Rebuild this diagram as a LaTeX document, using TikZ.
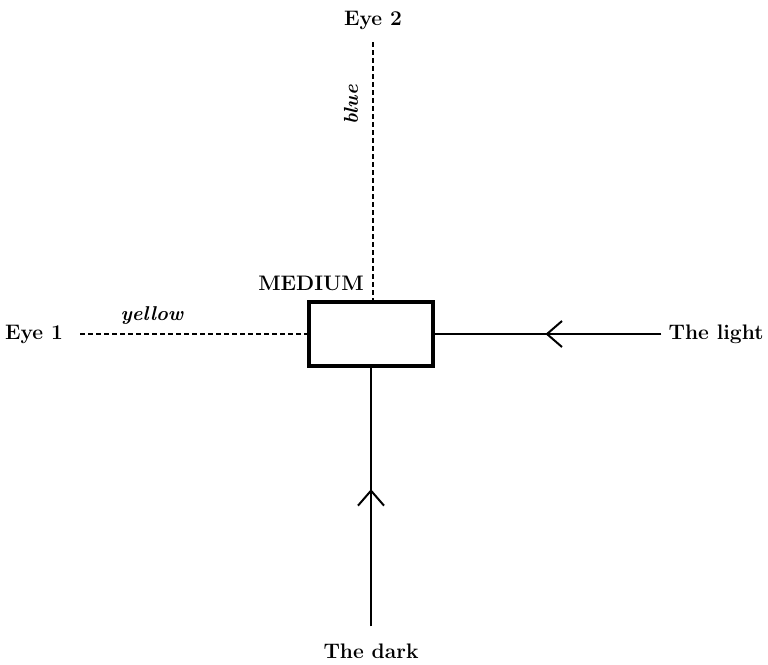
\documentclass[tikz,border=0pt]{standalone}
\usetikzlibrary{arrows.meta,decorations.markings}
\begin{document}
\begin{tikzpicture}[
    x=1pt, y=-1pt,
    font=\fontsize{21}{25}\selectfont\bfseries,
    every node/.style={inner sep=3pt},
    box/.style={draw, line width=3.5pt, minimum width=124pt, minimum height=64pt},
    ray/.style={line width=2pt},
    seen/.style={line width=1.8pt, dash pattern=on 5pt off 3pt},
    colour/.style={font=\fontsize{20}{24}\selectfont\bfseries\itshape},
    midarrow/.style={postaction={decorate}, decoration={markings, mark=at position #1 with {\arrow{Straight Barb[length=15pt,width=26pt]}}}}
]
\useasboundingbox (0,0) rectangle (768,664);
\node[box] (medium) at (371,334) {};
\node (mlabel) at (311,283) {MEDIUM};
\node (eye1) at (34,334) {Eye 1};
\node (eye2) at (373,20) {Eye 2};
\node (light) at (716,334) {The light};
\node (dark) at (371,651) {The dark};
\node[colour] (yellow) at (152,316) {yellow};
\node[colour, rotate=90] (blue) at (351,105) {blue};

\draw[seen, shorten <=14pt] (eye1.east) -- (medium.west);
\draw[seen, shorten <=10pt] (eye2.south) -- (eye2.south |- medium.north);
\draw[ray, shorten <=4pt, midarrow=0.52] (light.west) -- (medium.east);
\draw[ray, shorten <=14pt, midarrow=0.555] (dark.north) -- (medium.south);
\end{tikzpicture}
\end{document}
